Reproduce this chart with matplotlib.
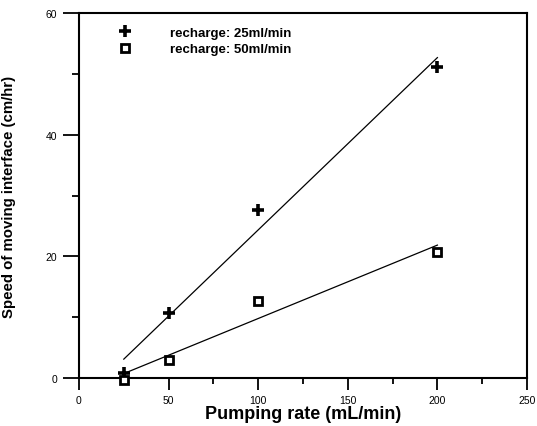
import numpy as np
import matplotlib
matplotlib.use("Agg")
import matplotlib.pyplot as plt
from matplotlib.ticker import MultipleLocator

plt.rcParams['font.family'] = ['Liberation Sans', 'DejaVu Sans']

pumping = [25, 50, 100, 200]
speed_25 = [0.8, 10.7, 27.6, 51.2]
speed_50 = [-0.3, 3.0, 12.7, 20.7]
labels = ["recharge: 25ml/min", "recharge: 50ml/min"]

W, H = 537, 427
fig = plt.figure(figsize=(W / 100, H / 100), dpi=100)
ax = fig.add_axes([79 / W, 1 - 379 / H, 448 / W, 365 / H])

x = np.array(pumping, dtype=float)
xf = np.array([x.min(), x.max()])
for ys in (speed_25, speed_50):
    p = np.polyfit(x, np.array(ys), 1)
    ax.plot(xf, np.polyval(p, xf), color='black', lw=0.9, zorder=2)

plus_kw = dict(linestyle='none', marker='+', color='black', ms=8, markeredgewidth=2.6)
sq_kw = dict(linestyle='none', marker='s', markerfacecolor='white',
             markeredgecolor='black', ms=6, markeredgewidth=2.0)
ax.plot(pumping, speed_25, zorder=3, clip_on=False, **plus_kw)
ax.plot(pumping, speed_50, zorder=3, clip_on=False, **sq_kw)

ax.set_xlim(0, 250)
ax.set_ylim(0, 60)
ax.xaxis.set_major_locator(MultipleLocator(50))
ax.xaxis.set_minor_locator(MultipleLocator(25))
ax.yaxis.set_major_locator(MultipleLocator(20))
ax.yaxis.set_minor_locator(MultipleLocator(10))
ax.tick_params(axis='x', which='major', direction='out', length=8.3, width=1.3,
               labelsize=7.5, pad=4)
ax.tick_params(axis='x', which='minor', direction='out', length=4.3, width=1.3)
ax.tick_params(axis='y', which='major', direction='out', length=11.5, width=1.3,
               labelsize=7.5, pad=4.3)
ax.tick_params(axis='y', which='minor', direction='out', length=5, width=1.3)
for s in ax.spines.values():
    s.set_linewidth(1.5)

ax.set_xlabel("Pumping rate (mL/min)", fontsize=13, fontweight='bold', labelpad=0)
ax.set_ylabel("Speed of moving interface (cm/hr)", fontsize=10.8, fontweight='bold')
ax.yaxis.set_label_coords(-(79 - 16) / 448, 0.5)

h1 = plt.Line2D([], [], **plus_kw)
h2 = plt.Line2D([], [], **sq_kw)
ax.legend([h1, h2], labels, loc='upper left', bbox_to_anchor=(0.077, 0.978),
          frameon=False, prop={'weight': 'bold', 'size': 9.5},
          handletextpad=2.9, labelspacing=0.35, handlelength=1.0, borderaxespad=0)

fig.savefig("out.png", dpi=100)
